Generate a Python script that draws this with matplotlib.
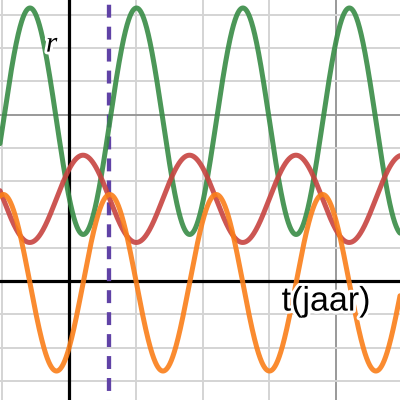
import numpy as np
import matplotlib
matplotlib.use("Agg")
import matplotlib.pyplot as plt
import matplotlib.patheffects as pe

# Sinusoid parameters (t in years)
series_names = ["groen", "rood", "oranje"]
series_colors = ["#388c46", "#c74440", "#fa7e19"]
offsets = [4.8, 2.47, -0.05]
amplitudes = [3.4, 1.31, 2.65]
peak_times = [5.05, 1.05, 3.05]
periods = [7.97, 7.97, 7.97]
marker_t = 3.0

x_label = "t(jaar)"
y_label = "r"

xlim = (-5.165, 24.78)
ylim = (-3.57, 8.44)

fig = plt.figure(figsize=(4, 4), dpi=100)
ax = fig.add_axes([0, 0, 1, 1])
ax.set_xlim(*xlim)
ax.set_ylim(*ylim)
ax.axis("off")

# grid
minor_c = "#d4d4d4"
major_c = "#999999"
for xv in np.arange(-5, 26, 5):
    c = major_c if xv % 20 == 0 else minor_c
    ax.axvline(xv, color=c, lw=1.4, zorder=0)
for yv in np.arange(-3, 9, 1):
    c = major_c if yv % 5 == 0 else minor_c
    ax.axhline(yv, color=c, lw=1.4, zorder=0)
ax.axhline(0, color="black", lw=2.3, zorder=1)
ax.axvline(0, color="black", lw=2.3, zorder=1)

# purple dashed marker line
ax.plot([marker_t, marker_t], [ylim[1], ylim[0]], color="#6042a6", lw=3.1,
        ls=(4.0, (3.0, 2.1)), dash_capstyle="butt", zorder=2)

t = np.linspace(xlim[0], xlim[1], 2000)
for name, c, o, a, p, T in zip(series_names, series_colors, offsets, amplitudes, peak_times, periods):
    ax.plot(t, o + a * np.cos(2 * np.pi * (t - p) / T), color=c, lw=3.6,
            alpha=0.9, solid_capstyle="round", zorder=3)

halo = [pe.withStroke(linewidth=4, foreground="white")]
ax.text(19.25, -0.63, x_label, fontsize=24.5, family="Liberation Sans",
        ha="center", va="center", zorder=5, path_effects=halo)
ax.text(-1.3, 7.1, y_label, fontsize=21, family="Liberation Serif", style="italic",
        ha="center", va="center", zorder=5, path_effects=halo)

fig.savefig("out.png", dpi=100)
